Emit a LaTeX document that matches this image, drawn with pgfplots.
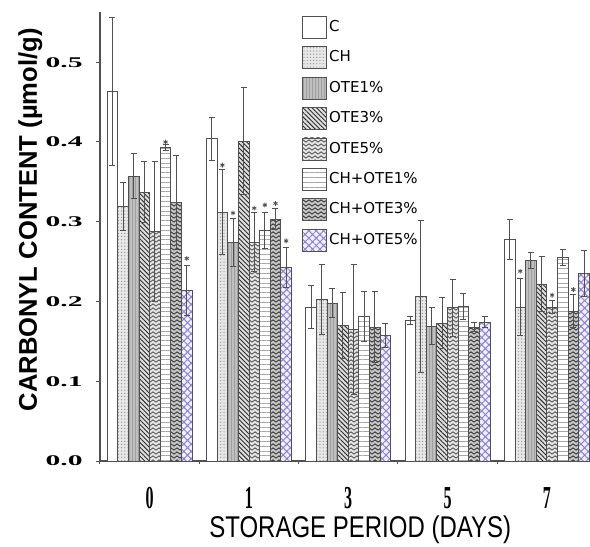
\documentclass[border=0pt]{standalone}
\usepackage{fontspec}
\setmainfont{Liberation Sans}
\newfontfamily\serifb{Liberation Serif}
\newfontfamily\legfont{DejaVu Sans}
\usepackage{graphicx}
\usepackage{pgfplots}
\pgfplotsset{compat=1.18}
\usetikzlibrary{patterns,patterns.meta,calc}

% fine zigzag for the OTE5% and CH+OTE3% bars
\pgfdeclarepatternformonly{zigzag}{\pgfpoint{-0.5pt}{-0.5pt}}{\pgfpoint{3.5pt}{2.5pt}}{\pgfpoint{3pt}{2pt}}{
  \pgfsetlinewidth{0.35pt}
  \pgfpathmoveto{\pgfpoint{0pt}{0.4pt}}
  \pgfpathlineto{\pgfpoint{1.5pt}{1.6pt}}
  \pgfpathlineto{\pgfpoint{3pt}{0.4pt}}
  \pgfusepath{stroke}}

\definecolor{edge}{HTML}{505050}
\definecolor{lav}{HTML}{8C82D2}

\newcommand{\yl}[1]{\scalebox{2.0}[1]{\serifb\bfseries\fontsize{7.4}{8}\selectfont #1}}
\newcommand{\xl}[1]{\scalebox{0.5}[1]{\serifb\bfseries\fontsize{16}{18}\selectfont #1}}

\begin{document}
\begin{tikzpicture}
\begin{axis}[
    name=ax,
    scale only axis, width=245pt, height=224.5pt,
    xmin=-0.5, xmax=4.435, ymin=0, ymax=0.563,
    axis x line=bottom, axis y line=left,
    axis line style={-, edge, line width=0.6pt},
    xtick={0,1,2,3,4},
    xticklabels={\xl{0},\xl{1},\xl{3},\xl{5},\xl{7}},
    minor xtick={-0.5,0.5,1.5,2.5,3.5},
    every major x tick/.append style={draw=none},
    every minor x tick/.append style={edge, line width=0.5pt},
    minor tick length=1.5pt,
    ytick={0,0.1,0.2,0.3,0.4,0.5},
    yticklabels={\yl{0.0},\yl{0.1},\yl{0.2},\yl{0.3},\yl{0.4},\yl{0.5}},
    every major y tick/.append style={edge, line width=0.5pt},
    major tick length=2pt,
    tick align=outside,
    yticklabel style={anchor=east, inner sep=0pt, xshift=-6.5pt},
    xticklabel style={anchor=north, inner sep=0pt, yshift=-11pt},
    xlabel={\scalebox{0.8}[1]{\fontsize{15}{16}\selectfont STORAGE PERIOD (DAYS)}},
    xlabel style={at={(axis description cs:0.531,-0.154)}, anchor=center, inner sep=0pt},
    ylabel={\bfseries\fontsize{12.8}{13}\selectfont CARBONYL CONTENT (µmol/g)},
    ylabel style={at={(axis description cs:-0.142,0.537)}, anchor=center, rotate=0, inner sep=0pt},
    legend style={at={(rel axis cs:0.412,0.992)}, anchor=north west, draw=none, fill=none,
                  inner sep=0pt, row sep=3.8pt, font=\legfont\fontsize{7.5}{8}\selectfont,
                  nodes={inner sep=1pt}},
    legend cell align=left,
    legend image code/.code={\draw[#1] (0pt,-5.5pt) rectangle (12pt,5.5pt);},
    bs/.style={ybar, bar width=0.107, bar shift=0pt, draw=edge, line width=0.4pt,
               error bars/y dir=both, error bars/y explicit,
               error bars/error bar style={edge, line width=0.5pt},
               error bars/error mark options={rotate=90, mark size=1.5pt, edge, line width=0.5pt}},
]
% C
\addplot[bs, fill=white] coordinates {
 (-0.3745,0.463) +- (0,0.093) (0.6255,0.404) +- (0,0.027) (1.6255,0.193) +- (0,0.027) (2.6255,0.176) +- (0,0.005) (3.6255,0.278) +- (0,0.025)};
\addlegendentry{C}
% CH
\addplot[bs, fill=gray!18, postaction={pattern={Dots[distance=1.6pt, radius=0.35pt]}, pattern color=gray!80}] coordinates {
 (-0.2675,0.319) +- (0,0.030) (0.7325,0.312) +- (0,0.053) (1.7325,0.203) +- (0,0.044) (2.7325,0.206) +- (0,0.095) (3.7325,0.193) +- (0,0.036)};
\addlegendentry{CH}
% OTE1%
\addplot[bs, fill=gray!50, postaction={pattern={Lines[angle=90, distance=1.5pt, line width=0.3pt]}, pattern color=gray!75}] coordinates {
 (-0.1605,0.357) +- (0,0.028) (0.8395,0.274) +- (0,0.030) (1.8395,0.198) +- (0,0.018) (2.8395,0.169) +- (0,0.023) (3.8395,0.252) +- (0,0.010)};
\addlegendentry{OTE1\%}
% OTE3%
\addplot[bs, fill=gray!25, postaction={pattern={Lines[angle=-45, distance=1.6pt, line width=0.45pt]}, pattern color=gray!35!black}] coordinates {
 (-0.0535,0.337) +- (0,0.038) (0.9465,0.401) +- (0,0.067) (1.9465,0.170) +- (0,0.041) (2.9465,0.173) +- (0,0.032) (3.9465,0.222) +- (0,0.035)};
\addlegendentry{OTE3\%}
% OTE5%
\addplot[bs, fill=gray!20, postaction={pattern=zigzag, pattern color=gray!40!black}] coordinates {
 (0.0535,0.288) +- (0,0.088) (1.0535,0.274) +- (0,0.037) (2.0535,0.165) +- (0,0.081) (3.0535,0.192) +- (0,0.036) (4.0535,0.193) +- (0,0.008)};
\addlegendentry{OTE5\%}
% CH+OTE1%
\addplot[bs, fill=white, postaction={pattern={Lines[angle=0, distance=2.4pt, line width=0.4pt]}, pattern color=gray!70}] coordinates {
 (0.1605,0.393) +- (0,0.004) (1.1605,0.289) +- (0,0.023) (2.1605,0.181) +- (0,0.031) (3.1605,0.194) +- (0,0.016) (4.1605,0.255) +- (0,0.010)};
\addlegendentry{CH+OTE1\%}
% CH+OTE3%
\addplot[bs, fill=gray!45, postaction={pattern=zigzag, pattern color=gray!15!black}] coordinates {
 (0.2675,0.324) +- (0,0.059) (1.2675,0.303) +- (0,0.013) (2.2675,0.168) +- (0,0.044) (3.2675,0.168) +- (0,0.006) (4.2675,0.188) +- (0,0.021)};
\addlegendentry{CH+OTE3\%}
% CH+OTE5%
\addplot[bs, fill=lav!12, postaction={pattern={Hatch[angle=45, distance=2.6pt, line width=0.5pt]}, pattern color=lav}] coordinates {
 (0.3745,0.214) +- (0,0.031) (1.3745,0.243) +- (0,0.025) (2.3745,0.157) +- (0,0.015) (3.3745,0.174) +- (0,0.007) (4.3745,0.235) +- (0,0.029)};
\addlegendentry{CH+OTE5\%}
% significance marks
\addplot[only marks, mark=asterisk, mark size=1.2pt, edge, forget plot] coordinates {
 (0.1605,0.400) (0.3745,0.254)
 (0.7325,0.371) (0.8395,0.311) (1.0535,0.317) (1.1605,0.321) (1.2675,0.323) (1.3745,0.276)
 (3.7325,0.238) (4.0535,0.208) (4.2675,0.215)};
\end{axis}
\pgfresetboundingbox
\path ($(ax.south west)+(-50pt,-43pt)$) rectangle ($(ax.north east)+(0pt,6pt)$);
\end{tikzpicture}
\end{document}
